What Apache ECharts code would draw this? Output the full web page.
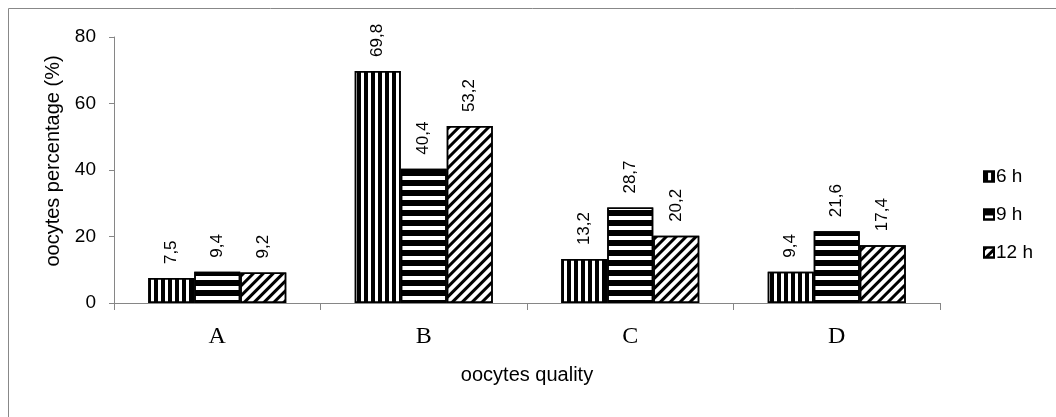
<!DOCTYPE html>
<html>
<head>
<meta charset="utf-8">
<script src="https://cdn.jsdelivr.net/npm/echarts@6/dist/echarts.min.js"></script>
<style>html,body{margin:0;padding:0;background:#fff;}#c{width:1056px;height:417px;}</style>
</head>
<body>
<div id="c"></div>
<script>
const categories = ['A', 'B', 'C', 'D'];
const seriesNames = ['6 h', '9 h', '12 h'];
const values6h = [7.5, 69.8, 13.2, 9.4];
const values9h = [9.4, 40.4, 28.7, 21.6];
const values12h = [9.2, 53.2, 20.2, 17.4];
const yTicks = [0, 20, 40, 60, 80];

const decals = [
  {symbol: 'rect', symbolSize: 1, color: '#000', dashArrayX: [4, 3], dashArrayY: [10, 0]},
  {symbol: 'rect', symbolSize: 1, color: '#000', dashArrayX: [1, 0], dashArrayY: [6, 4]},
  {symbol: 'rect', symbolSize: 1, color: '#000', dashArrayX: [1, 0], dashArrayY: [3, 4], rotation: -Math.PI / 4}
];
const allValues = [values6h, values9h, values12h];

const chart = echarts.init(document.getElementById('c'), null, {renderer: 'canvas'});
const fmt = p => String(p.value).replace('.', ',');

chart.setOption({
  animation: false,
  backgroundColor: '#fff',
  graphic: [{
    type: 'rect',
    shape: {x: 8.5, y: 8.5, width: 1100, height: 500},
    style: {fill: 'none', stroke: '#888', lineWidth: 1},
    silent: true
  }],
  grid: {left: 114, right: 116, top: 37, bottom: 114, containLabel: false},
  legend: {
    orient: 'vertical',
    left: 978,
    top: 162,
    itemWidth: 10,
    itemHeight: 10,
    itemGap: 19,
    icon: 'rect',
    data: seriesNames,
    textStyle: {fontFamily: 'Liberation Sans, Arial', fontSize: 19, color: '#000', padding: [0, 0, 0, -3]}
  },
  xAxis: {
    type: 'category',
    data: categories,
    name: 'oocytes quality',
    nameLocation: 'middle',
    nameGap: 62,
    nameTextStyle: {fontFamily: 'Liberation Sans, Arial', fontSize: 20, color: '#000'},
    axisLine: {lineStyle: {color: '#868686', width: 1}},
    axisTick: {show: true, length: 7, lineStyle: {color: '#868686'}},
    axisLabel: {fontFamily: 'Liberation Serif, Times New Roman', fontSize: 24, color: '#000', margin: 22}
  },
  yAxis: {
    type: 'value',
    min: yTicks[0],
    max: yTicks[yTicks.length - 1],
    interval: 20,
    name: 'oocytes percentage (%)',
    nameLocation: 'middle',
    nameGap: 47,
    nameTextStyle: {fontFamily: 'Liberation Sans, Arial', fontSize: 20, color: '#000', padding: [0, 0, 0, 18]},
    axisLine: {show: true, lineStyle: {color: '#868686', width: 1}},
    axisTick: {show: true, length: 5, lineStyle: {color: '#868686'}},
    splitLine: {show: false},
    axisLabel: {fontFamily: 'Liberation Sans, Arial', fontSize: 19, color: '#000', margin: 18}
  },
  series: seriesNames.map((name, i) => ({
    name: name,
    type: 'bar',
    data: allValues[i],
    barWidth: 46,
    barGap: '0%',
    itemStyle: {color: '#fff', borderColor: '#000', borderWidth: 1.5, decal: decals[i]},
    label: {
      show: true,
      position: 'top',
      rotate: 90,
      align: 'left',
      verticalAlign: 'middle',
      distance: 14,
      formatter: fmt,
      fontFamily: 'Liberation Sans, Arial',
      fontSize: 17,
      color: '#000'
    }
  }))
});
</script>
</body>
</html>
